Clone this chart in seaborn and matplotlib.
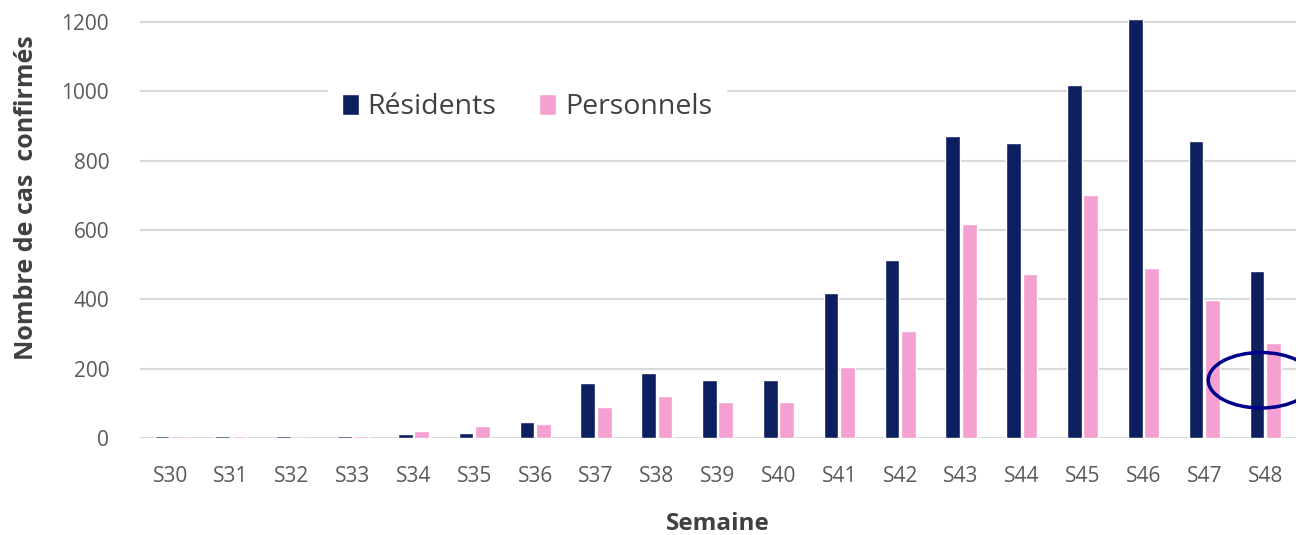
import matplotlib
matplotlib.use("Agg")
import matplotlib.pyplot as plt
from matplotlib.patches import Ellipse
import seaborn as sns
import pandas as pd

# Values
weeks = ["S30", "S31", "S32", "S33", "S34", "S35", "S36", "S37", "S38", "S39",
         "S40", "S41", "S42", "S43", "S44", "S45", "S46", "S47", "S48"]
residents = [5, 5, 5, 5, 12, 15, 48, 160, 187, 167, 167, 418, 513, 871, 851, 1018, 1210, 857, 482]
personnels = [5, 5, 0, 5, 20, 35, 42, 90, 123, 105, 105, 205, 309, 617, 473, 701, 490, 398, 274]
series_names = ["Résidents", "Personnels"]
yticks = [0, 200, 400, 600, 800, 1000, 1200]

df = pd.DataFrame({
    "Semaine": weeks * 2,
    "cas": residents + personnels,
    "groupe": [series_names[0]] * len(weeks) + [series_names[1]] * len(weeks),
})

sns.set_style("white")
plt.rcParams["font.family"] = ["Open Sans", "DejaVu Sans"]

fig = plt.figure(figsize=(13.06, 5.35), dpi=100)
# axes spans 0..1215 so the S46 bar pokes just above the 1200 line
ax = fig.add_axes([0.107, 0.181, 0.885, 0.7876])

ax.grid(axis="y", color="#d9d9d9", lw=1.5, zorder=0)
ax.set_axisbelow(True)

sns.barplot(data=df, x="Semaine", y="cas", hue="groupe", ax=ax,
            palette=["#0d1f5e", "#f4a0d0"], width=0.54, gap=0.1,
            saturation=1, zorder=2)

ax.set_ylim(0, 1215)
ax.set_yticks(yticks)
ax.set_xlim(-0.5, len(weeks) - 0.5)
sns.despine(ax=ax, left=True, bottom=True)
ax.tick_params(axis="both", length=0, labelsize=15, labelcolor="#595959")
ax.tick_params(axis="y", pad=22)
ax.tick_params(axis="x", pad=20)

ax.set_ylabel("Nombre de cas  confirmés", fontsize=18, fontweight="bold",
              color="#404040")
ax.yaxis.set_label_coords(-0.087, 0.57)
ax.set_xlabel("Semaine", fontsize=17.5, fontweight="bold", color="#404040", labelpad=18)

leg = ax.legend(loc="center", bbox_to_anchor=(0.335, 0.785), ncol=2, frameon=True,
                facecolor="white", edgecolor="white", framealpha=1,
                fontsize=20.5, handlelength=0.6, handleheight=0.8,
                columnspacing=1.5, handletextpad=0.3, borderpad=0.5)
for t in leg.get_texts():
    t.set_color("#404040")

# circle highlighting the last week
ax.add_patch(Ellipse((17.93, 167), width=1.73, height=160, fill=False,
                     edgecolor="#00008b", lw=2.5, zorder=5))

plt.savefig("out.png", dpi=100)
